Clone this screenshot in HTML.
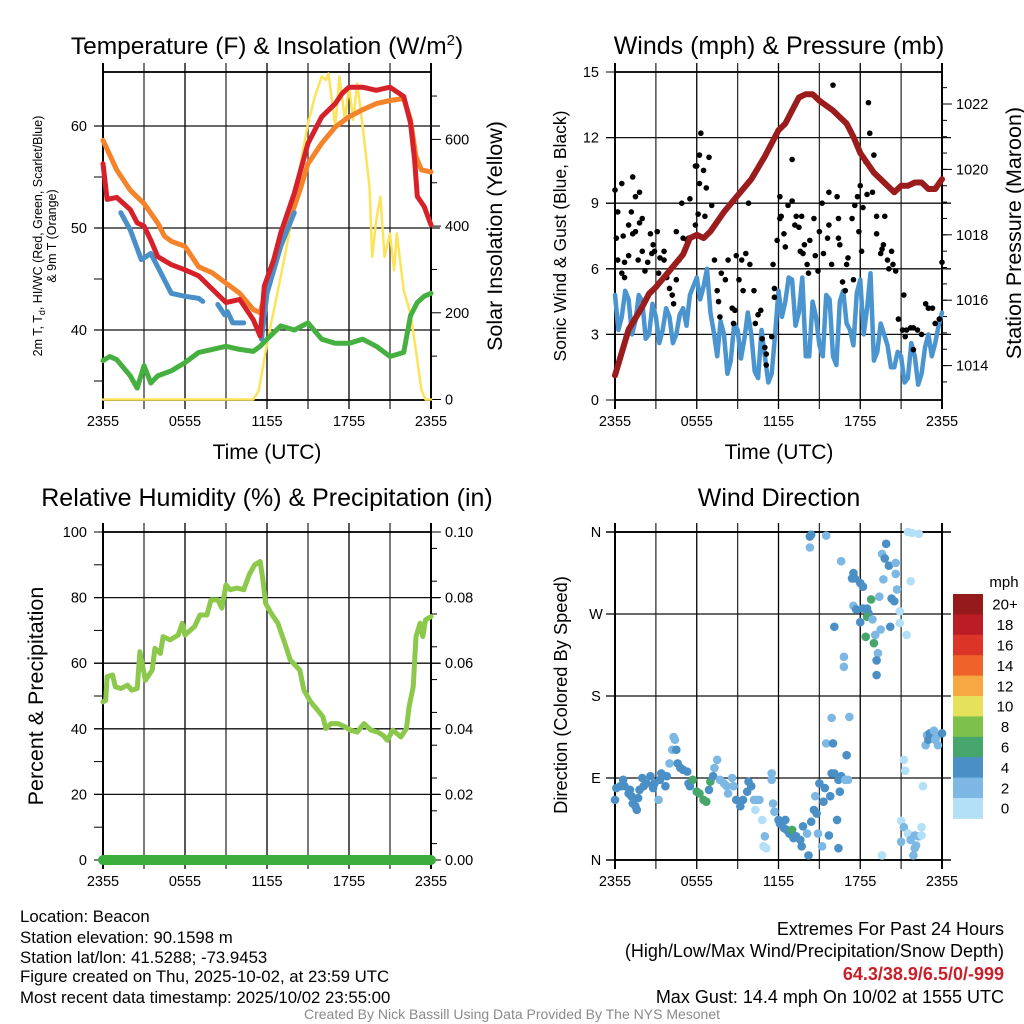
<!DOCTYPE html>
<html><head><meta charset="utf-8"><style>
html,body{margin:0;padding:0;background:#fff;}
svg{display:block;font-family:"Liberation Sans",Arial,sans-serif;}
</style></head><body>
<svg id="chart" width="1024" height="1024" viewBox="0 0 1024 1024" xmlns="http://www.w3.org/2000/svg">
<g id="layer-grid"></g>
<g id="layer-data"></g>
<g id="layer-text">
  <text x="267" y="54" font-size="24.5" text-anchor="middle">Temperature (F) &amp; Insolation (W/m<tspan dy="-9" font-size="15">2</tspan><tspan dy="9">)</tspan></text>
  <text x="779" y="54" font-size="25" text-anchor="middle">Winds (mph) &amp; Pressure (mb)</text>
  <text x="267" y="506" font-size="25" text-anchor="middle">Relative Humidity (%) &amp; Precipitation (in)</text>
  <text x="779" y="506" font-size="25" text-anchor="middle">Wind Direction</text>
  <text x="267" y="459" font-size="21" text-anchor="middle">Time (UTC)</text>
  <text x="779" y="459" font-size="21" text-anchor="middle">Time (UTC)</text>
  <g transform="translate(42,236) rotate(-90)">
    <text x="0" y="0" font-size="12.5" text-anchor="middle">2m T, T<tspan font-size="9" dy="3">d</tspan><tspan dy="-3">, HI/WC (Red, Green, Scarlet/Blue)</tspan></text>
    <text x="0" y="14" font-size="12.5" text-anchor="middle">&amp; 9m T (Orange)</text>
  </g>
  <text transform="translate(502,236) rotate(-90)" font-size="21.5" text-anchor="middle">Solar Insolation (Yellow)</text>
  <text transform="translate(566,236) rotate(-90)" font-size="17.5" text-anchor="middle">Sonic Wind &amp; Gust (Blue, Black)</text>
  <text transform="translate(1021,233) rotate(-90)" font-size="21.5" text-anchor="middle">Station Pressure (Maroon)</text>
  <text transform="translate(43,696) rotate(-90)" font-size="21.5" text-anchor="middle">Percent &amp; Precipitation</text>
  <text transform="translate(567,695) rotate(-90)" font-size="18.3" text-anchor="middle">Direction (Colored By Speed)</text>
  <text x="1004" y="587" font-size="15" text-anchor="middle">mph</text>
  <g font-size="16.8">
    <text x="20" y="922">Location: Beacon</text>
    <text x="20" y="943">Station elevation: 90.1598 m</text>
    <text x="20" y="963">Station lat/lon: 41.5288; -73.9453</text>
    <text x="20" y="982">Figure created on Thu, 2025-10-02, at 23:59 UTC</text>
    <text x="20" y="1003">Most recent data timestamp: 2025/10/02 23:55:00</text>
  </g>
  <g font-size="18" text-anchor="end">
    <text x="1004" y="935">Extremes For Past 24 Hours</text>
    <text x="1004" y="957">(High/Low/Max Wind/Precipitation/Snow Depth)</text>
    <text x="1004" y="980" fill="#c8202a" font-weight="bold">64.3/38.9/6.5/0/-999</text>
    <text x="1004" y="1003">Max Gust: 14.4 mph On 10/02 at 1555 UTC</text>
  </g>
  <text x="512" y="1019" font-size="14" fill="#8a8a8a" text-anchor="middle">Created By Nick Bassill Using Data Provided By The NYS Mesonet</text>
</g>
</svg>
<script>
// ---------- data ----------
const timeTickLabels = ["2355","0555","1155","1755","2355"];
const tempTicks = [40,50,60];
const insolTicks = [0,200,400,600];
const windTicks = [0,3,6,9,12,15];
const presTicks = [1014,1016,1018,1020,1022];
const rhTicks = [0,20,40,60,80,100];
const precipTicks = ["0.00","0.02","0.04","0.06","0.08","0.10"];
const dirLabels = ["N","E","S","W","N"];
const speedBins = ["0","2","4","6","8","10","12","14","16","18","20+"];

const redT = [0,0.3,1,2,2.5,3,3.5,4,5,6,7,8,9,10,11,11.5,11.8,12.5,13,14,15,16,17,17.5,18,19,20,21,22,22.5,22.8,23,23.5,24];
const redV = [56.3,52.8,53,51.8,50.5,50.2,48.8,47.2,46.4,45.9,45.3,44,42.7,43,41,39.4,44.3,46.9,49.5,53.4,58.3,60.9,62.2,63.2,63.8,63.8,63.5,63.8,62.9,60.3,56.7,53.1,52.1,50.3];
const orangeT = [0,1,2,3,4,4.5,5,6,7,8,9,10,11,11.5,12,12.5,13,14,14.5,15,16,17,18,19,20,21,22,22.5,22.9,23.3,24];
const orangeV = [58.6,55.7,53.7,52.4,50.5,49.2,48.7,48.2,46.2,45.6,44.6,43.6,42,41.7,44.3,46.2,48.8,52.1,54.1,56.3,58.3,59.9,60.9,61.6,62.2,62.5,62.7,60.6,57,55.7,55.5];
const blueT = [1.3,2,2.8,3.5,4,5,6,7,7.3,null,8.4,8.9,null,9.1,9.5,10.3,null,11.6,12,13,14];
const blueV = [51.5,49.8,46.9,47.5,46.2,43.6,43.3,43.1,42.8,null,42.5,41.5,null,41.8,40.7,40.7,null,39.1,43.6,48.2,51.5];
const greenT = [0,0.5,1,2,2.5,3,3.5,4,5,6,7,8,9,10,11,11.5,12,13,14,15,16,17,18,19,20,21,22,22.5,23,23.5,24];
const greenV = [37,37.4,37.1,35.5,34.3,36.5,34.8,35.5,36,36.8,37.8,38.1,38.4,38.1,37.9,38.4,39.1,40.4,40,40.7,39.1,38.7,38.7,39.1,38.4,37.4,37.8,41.4,42.7,43.3,43.6];
const solarT = [0,11,11.4,12,13,14,14.5,15,15.5,16,16.3,16.5,17,17.3,17.7,18,18.3,18.6,19,19.5,19.7,20,20.3,20.6,21,21.3,21.5,22,22.5,23,23.3,23.6,24];
const solarV = [0,0,21,129,283,445,552,637,698,745,737,752,629,745,645,722,645,729,629,491,329,414,468,329,383,298,383,252,198,91,22,0,0];

const presT = [0,0.5,1,2,2.5,3,4,5,5.5,6,6.5,7,8,9,10,11,12,12.5,13,13.5,14,14.5,15,16,16.5,17,17.5,18,18.5,19,19.5,20,20.5,21,21.5,22,22.5,23,23.5,24];
const presV = [1013.7,1014.4,1015.1,1015.8,1016.2,1016.4,1016.9,1017.4,1017.9,1018,1017.9,1018.1,1018.7,1019.2,1019.7,1020.4,1021.2,1021.4,1021.8,1022.2,1022.3,1022.3,1022.1,1021.8,1021.6,1021.4,1021,1020.5,1020.2,1019.9,1019.7,1019.5,1019.3,1019.5,1019.5,1019.6,1019.6,1019.4,1019.4,1019.7];
const windT = [0,0.25,0.5,0.75,1,1.25,1.5,1.75,2,2.25,2.5,2.75,3,3.25,3.5,3.75,4,4.25,4.5,4.75,5,5.25,5.5,5.75,6,6.25,6.5,6.75,7,7.25,7.5,7.75,8,8.25,8.5,8.75,9,9.25,9.5,9.75,10,10.25,10.5,10.75,11,11.25,11.5,11.75,12,12.25,12.5,12.75,13,13.25,13.5,13.75,14,14.25,14.5,14.75,15,15.25,15.5,15.75,16,16.25,16.5,16.75,17,17.25,17.5,17.75,18,18.25,18.5,18.75,19,19.25,19.5,19.75,20,20.25,20.5,20.75,21,21.25,21.5,21.75,22,22.25,22.5,22.75,23,23.25,23.5,23.75,24];
const windV = [4.8,3.2,3.8,5.0,4.6,3.0,3.6,4.8,4.5,2.8,3.0,4.4,3.8,2.6,3.2,4.2,3.8,2.6,3.0,3.9,4.2,3.4,4.8,5.2,5.6,4.6,5.2,6.0,4.0,3.1,2.0,3.6,3.0,1.2,1.8,3.5,3.2,1.9,2.8,4.0,3.0,1.3,1.0,3.2,2.0,0.8,1.2,3.0,5.0,3.8,4.5,5.6,5.5,3.4,4.0,5.6,2.0,2.0,4.5,3.8,2.5,2.0,4.8,4.6,2.0,1.6,4.5,5.0,3.5,3.2,2.5,4.9,5.5,3.0,4.2,5.8,1.8,2.2,3.5,3.0,2.5,1.5,1.5,2.2,2.0,0.8,1.0,2.6,2.0,0.7,1.2,2.4,3.0,2.0,2.6,3.4,4.0];
const gustT = [0,0.1,0.2,0.5,0.2,0.6,0.5,0.7,0.7,1,1,1.2,1.3,1.5,1.3,1.5,1.8,1.8,1.7,2,2,2.2,2.4,2.6,2.7,2.8,3.1,2.9,3.2,3.3,3.6,3.6,3.8,4,4.3,4.2,4.5,4.7,4.5,4.9,5,5.3,5.5,5.4,5.9,6,6.2,6.3,6.5,6.2,6.7,6.1,6.6,6.9,7.1,5.9,7.3,7.8,7.5,7.6,7.7,8.1,8.3,8.6,8.7,8.8,8.9,9.1,9.3,9.4,9.6,9.8,9.9,10.2,10.3,10.5,10.7,10.8,11,11.1,11.1,11.5,11.6,11.7,11.7,11.9,12.1,12.1,12.4,12.2,12.5,12.7,13,13,13.2,13.3,13.5,13.6,13.7,13.8,13.9,14.1,14.2,14.3,14.6,14.7,14.9,15,15.2,15.3,15.6,15.7,15.7,15.9,16,16.3,16.4,16.4,16.5,16.7,16.9,17,17.1,17.4,17.5,17.6,17.8,17.9,18,18.1,18.2,18.4,18.5,18.6,18.7,18.9,19,19.2,19.2,19.5,19.6,19.7,19.8,20,20.1,20.3,20.4,20.6,20.8,21.1,21.2,21.3,21.4,21.7,21.9,21.9,22.2,22.5,22.8,23,23.3,23.5,23.8,24];
const gustV = [9.6,7.4,8.6,9.9,6.4,7.5,5.8,5.6,6.3,8.0,6.6,8.6,10.2,9.3,7.6,7.7,9.5,8.1,6.4,8.3,6.8,5.9,6.3,7.6,6.7,7.1,7.7,6.8,5.8,6.5,6.4,6.8,5.6,5.1,4.4,4.8,7.7,6.4,5.5,9.0,7.4,7.3,9.2,7.4,10.7,10.7,11.2,12.2,10.5,9.9,9.7,8.5,8.4,11.1,8.9,8.0,6.4,5.8,5.0,4.5,3.8,5.5,6.4,4.2,3.5,4.1,6.6,5.5,6.4,5.0,6.7,9.0,6.2,5.0,3.5,3.9,4.1,2.8,2.4,2.1,1.6,2.9,6.2,5.1,4.7,7.3,9.3,8.3,7.6,8.4,7.0,8.9,11.0,9.1,8.0,8.4,7.9,6.8,8.4,6.7,7.1,6.2,5.8,7.3,8.3,6.6,5.9,7.7,9.0,6.7,7.4,8.0,9.5,6.2,14.4,9.3,8.3,7.4,7.1,5.4,5.0,6.2,6.5,8.3,5.5,8.9,9.3,7.7,9.8,6.8,8.8,10.9,9.4,13.6,12.2,9.5,11.2,8.4,7.6,6.7,6.9,7.1,8.4,6.4,6.0,6.8,6.2,5.9,3.7,3.2,4.8,2.9,3.2,3.3,2.3,3.3,3.2,3.0,4.4,4.2,4.2,3.5,3.7,6.3];

const rhT = [0,0.2,0.3,0.7,0.9,1.3,1.8,2.1,2.5,2.7,3.1,3.6,3.8,4.2,4.4,4.9,5.5,5.8,6,6.7,7.1,7.6,7.9,8.4,8.7,9,9.3,9.8,10.3,10.7,11.1,11.5,11.7,11.9,12.3,12.8,13.3,13.7,14.4,14.7,15.2,15.7,16.1,16.3,16.7,17.2,17.7,18.1,18.6,19.1,19.6,20.1,20.5,20.8,21.2,21.8,22.2,22.4,22.7,22.9,23.2,23.4,23.6,24];
const rhV = [48.2,48.7,55.9,56.4,52.8,52.3,53.3,51.8,52.3,63.5,54.8,57.9,64.5,63,68.1,67.1,68.6,72.2,68.6,71.2,74.7,74.7,79.3,79.3,76.8,83.9,82.4,82.9,82.4,87,90,91,85.4,78.3,75.2,72.2,66.1,61,57.9,51.8,48.2,45.7,43.6,40.1,41.6,41.6,40.6,39.6,39,41.6,39.6,39,38,36.5,39.6,37.5,40.1,46.7,52.8,68.1,72.2,68.1,73.2,74.2];
const precipT = [0,24];
const precipV = [0,0];

const dirT = [0,0.1,0.4,0.6,0.7,1,1.1,1.2,1.3,1.5,1.6,1.7,1.8,2,2.1,2.3,2.6,2.8,2.9,3.2,3.3,3.4,3.7,3.8,4,4.2,4.3,4.4,4.5,4.6,4.8,5,5.3,5.4,5.5,5.7,6,6.2,6.5,6.7,7,6.9,7.2,7.3,7.5,7.7,8,8.2,8.3,8.6,8.7,8.9,9.2,9.4,9.7,9.8,10,10.2,10.3,10.4,10.6,10.8,11,10.9,11.1,11.5,11.5,11.6,11.7,12,12.1,12.4,12.5,12.6,12.8,13,13.1,13.3,13.6,13.7,13.8,14.1,14.2,14.4,14.6,14.7,14.8,14.9,15,15.2,15.3,15.4,15.5,15.8,15.9,16,16.1,16.3,16.4,16.5,16.6,16.9,17,17.1,17.2,15.9,15.7,16.4,14.3,14.4,14.3,15.5,16.6,17.5,17.4,17.6,18,18.2,18.8,19.4,19.6,19.9,19.8,20.1,20.6,19.7,20.6,20.7,20.3,20.5,21.7,17.5,17.7,18.2,18.5,18.6,18.5,18.9,18,16.1,19.5,20.2,20.9,20.9,21.4,18.4,19,19.1,16.8,16.8,19.3,19.2,19.2,21.5,21.8,22.3,22.9,23.1,23.4,23.6,23.7,24,22.8,23,23.5,21.2,21.3,22.6,21,21.2,21.5,22,22.3,22.5,21.7,22.1,21,22,21.9,19.6,22.5];
const dirV = [66,79,81,88,81,73,77,70,62,59,55,68,77,90,81,84,92,79,84,66,88,95,81,92,106,121,135,132,121,106,101,99,97,84,81,88,75,73,66,64,86,77,92,101,110,88,84,81,73,90,81,66,59,66,75,86,81,66,55,66,66,44,26,15,13,95,88,62,53,44,40,35,44,33,29,33,24,26,22,15,37,29,5,42,55,70,51,29,84,15,64,79,128,70,95,128,95,44,88,75,92,88,115,88,157,156,27,13,355,357,343,356,328,315,309,309,304,300,286,289,336,347,331,323,326,308,314,297,287,284,306,279,275,276,276,271,267,264,261,256,253,256,273,260,247,245,238,247,223,212,227,219,203,360,359,358,137,139,142,135,126,139,126,132,132,110,98,81,43,36,29,27,26,27,22,16,20,13,5,5,36];
const dirS = [5,5,5,5,5,5,5,5,5,5,5,5,5,5,5,5,5,5,5,3,5,5,5,5,3,3,3,3,5,5,5,5,5,5,5,7,7,7,7,7,7,5,5,3,3,3,3,3,3,3,3,5,5,5,5,5,5,3,1,3,3,1,3,1,1,3,3,3,3,5,5,5,5,5,5,7,5,5,5,5,5,3,5,5,5,3,5,3,5,3,5,5,3,5,5,5,5,5,5,5,5,3,5,3,3,3,5,5,5,5,3,3,3,5,5,5,5,5,7,3,3,5,5,5,3,3,3,3,5,5,1,3,5,5,5,5,7,3,5,5,3,5,1,1,1,7,7,3,3,3,3,5,5,1,1,1,3,5,3,3,3,5,3,5,3,1,1,1,1,3,1,3,3,1,3,3,3,3,3,1,1];

// ---------- helpers ----------
const NS = "http://www.w3.org/2000/svg";
const gridL = document.getElementById("layer-grid");
const dataL = document.getElementById("layer-data");
const textL = document.getElementById("layer-text");
function mk(tag, attrs, parent) {
  const e = document.createElementNS(NS, tag);
  for (const k in attrs) e.setAttribute(k, attrs[k]);
  parent.appendChild(e);
  return e;
}
const panels = {
  p1: {x0:103, x1:431, y0:72, y1:400},
  p2: {x0:615, x1:942, y0:72, y1:400},
  p3: {x0:103, x1:431, y0:532, y1:860},
  p4: {x0:615, x1:942, y0:532, y1:860}
};
function sx(p, t) { return p.x0 + t / 24 * (p.x1 - p.x0); }
function lin(p, v, vmin, vmax) { return p.y1 - (v - vmin) / (vmax - vmin) * (p.y1 - p.y0); }
const yTemp = v => 126 + (60 - v) * 10.2;
const yIns = v => 399.5 - v * 0.4335;
const yWind = v => lin(panels.p2, v, 0, 15);
const yPres = v => 104 + (1022 - v) * 32.7;
const yRh = v => lin(panels.p3, v, 0, 100);
const yPre = v => lin(panels.p3, v, 0, 0.1);
const yDir = v => lin(panels.p4, v, 0, 360);

function drawFrame(p, name, hLines) {
  const g = mk("g", {}, gridL);
  
  
  for (let i = 0; i <= 8; i++) {
    const x = p.x0 + i * (p.x1 - p.x0) / 8;
    mk("line", {x1:x, x2:x, y1:p.y0 - 9, y2:p.y1 + 9, stroke: (i % 2 ? "#333" : "#000"), "stroke-width": (i === 0 || i === 8) ? 2 : 1.3}, g);
  }
  hLines.forEach(y => mk("line", {x1:p.x0 - 9, x2:p.x1 + 9, y1:y, y2:y, stroke:"#111", "stroke-width":1.3}, g));
  mk("rect", {x:p.x0, y:p.y0, width:p.x1 - p.x0, height:p.y1 - p.y0, fill:"none", stroke:"#000", "stroke-width":1.8}, g);
  timeTickLabels.forEach((lab, i) => {
    const t = mk("text", {x: p.x0 + i * (p.x1 - p.x0) / 4, y: p.y1 + 26, "font-size": 14.5, "text-anchor": "middle"}, textL);
    t.textContent = lab;
    
    
  });
}
function minorTicks(x, ys, len, g) {
  ys.forEach(y => mk("line", {x1:x, x2:x + len, y1:y, y2:y, stroke:"#000", "stroke-width":1}, g));
}
function tickLabel(x, y, txt, anchor, name) {
  const t = mk("text", {x:x, y:y + 5, "font-size":14.5, "text-anchor":anchor}, textL);
  t.textContent = txt;
  
  
}
function pathFrom(ts, vs, p, yf) {
  let d = "", pen = false;
  for (let i = 0; i < ts.length; i++) {
    if (ts[i] === null) { pen = false; continue; }
    d += (pen ? "L" : "M") + sx(p, ts[i]).toFixed(1) + "," + yf(vs[i]).toFixed(1);
    pen = true;
  }
  return d;
}
function series(ts, vs, p, yf, color, w, name) {
  const e = mk("path", {d: pathFrom(ts, vs, p, yf), fill:"none", stroke:color, "stroke-width":w, "stroke-linejoin":"round", "stroke-linecap":"round"}, dataL);
  
  
  return e;
}

// ---------- panel 1 ----------
(function(){
  const p = panels.p1;
  drawFrame(p, "temperature", tempTicks.map(yTemp));
  const g = mk("g", {}, gridL);
  minorTicks(p.x0 - 9, [35,45,55].map(yTemp), 9, g);
  const ins = [];
  for (let w = 100; w <= 700; w += 200) ins.push(yIns(w));
  minorTicks(p.x1, ins, 6, g);
  minorTicks(p.x1, insolTicks.map(yIns), 10, g);
  tempTicks.forEach(v => tickLabel(p.x0 - 16, yTemp(v), String(v), "end", "temperature-y-tick-label"));
  insolTicks.forEach(v => tickLabel(p.x1 + 14, yIns(v), String(v), "start", "insolation-y-tick-label"));
  series(solarT, solarV, p, yIns, "#fde35a", 2.5, "solar-insolation-line");
  series(greenT, greenV, p, yTemp, "#45b040", 5, "dewpoint-line");
  series(orangeT, orangeV, p, yTemp, "#f5832a", 5, "temp-9m-line");
  series(blueT, blueV, p, yTemp, "#4a90c8", 5, "windchill-line");
  series(redT, redV, p, yTemp, "#d7212a", 5, "temp-2m-line");
})();

// ---------- panel 2 ----------
(function(){
  const p = panels.p2;
  drawFrame(p, "wind", windTicks.slice(1, 5).map(yWind));
  const g = mk("g", {}, gridL);
  minorTicks(p.x0 - 9, windTicks.map(yWind), 9, g);
  const pm = [];
  for (let v = 1013.5; v <= 1023; v += 0.5) pm.push(yPres(v));
  minorTicks(p.x1, pm.filter(y => y >= p.y0 && y <= p.y1), 5, g);
  minorTicks(p.x1, presTicks.map(yPres), 10, g);
  windTicks.forEach(v => tickLabel(p.x0 - 16, yWind(v), String(v), "end", "wind-y-tick-label"));
  presTicks.forEach(v => tickLabel(p.x1 + 14, yPres(v), String(v), "start", "pressure-y-tick-label"));
  series(windT, windV, p, yWind, "#4a94d0", 4.5, "sonic-wind-line");
  const gg = mk("g", {fill:"#000"}, dataL);
  
  
  for (let i = 0; i < gustT.length; i++) {
    const c = mk("circle", {cx: sx(p, gustT[i]), cy: yWind(gustV[i]), r: 2.8}, gg);
    
    
  }
  series(presT, presV, p, yPres, "#9b1c1c", 6, "pressure-line");
})();

// ---------- panel 3 ----------
(function(){
  const p = panels.p3;
  drawFrame(p, "humidity", [20,40,60,80].map(yRh));
  const g = mk("g", {}, gridL);
  minorTicks(p.x0 - 9, [0,10,20,30,40,50,60,70,80,90,100].map(yRh), 9, g);
  const r = [];
  for (let v = 5; v < 100; v += 10) r.push(yRh(v));
  minorTicks(p.x1, r, 6, g);
  minorTicks(p.x1, rhTicks.map(yRh), 10, g);
  rhTicks.forEach(v => tickLabel(p.x0 - 16, yRh(v), String(v), "end", "humidity-y-tick-label"));
  precipTicks.forEach(v => tickLabel(p.x1 + 14, yPre(parseFloat(v)), v, "start", "precip-y-tick-label"));
  series(rhT, rhV, p, yRh, "#8cc84b", 5, "relative-humidity-line");
  series(precipT, precipV, p, yPre, "#3cae3c", 10, "precipitation-line");
})();

// ---------- panel 4 ----------
(function(){
  const p = panels.p4;
  drawFrame(p, "direction", [90,180,270].map(yDir));
  const g = mk("g", {}, gridL);
  minorTicks(p.x0 - 9, [0,90,180,270,360].map(yDir), 9, g);
  mk("line", {x1:p.x0 - 9, x2:p.x1 + 9, y1:p.y0, y2:p.y0, stroke:"#000", "stroke-width":1.5}, g);
  mk("line", {x1:p.x0 - 9, x2:p.x1 + 9, y1:p.y1, y2:p.y1, stroke:"#000", "stroke-width":1.5}, g);
  dirLabels.forEach((lab, i) => tickLabel(p.x0 - 19, yDir(i * 90), lab, "middle", "direction-y-tick-label"));
  const binColors = ["#b3e0f7","#7cb8e3","#4a8fc6","#46a66b","#7dc14a","#e5e15a","#f6a843","#ef6229","#dc3527","#bc1c24","#941a1c"];
  const gg = mk("g", {}, dataL);
  
  
  for (let i = 0; i < dirT.length; i++) {
    const bin = Math.min(10, Math.floor(dirS[i] / 2));
    const c = mk("circle", {cx: sx(p, dirT[i]), cy: yDir(dirV[i]), r: 4.3, fill: binColors[bin]}, gg);
    
    
  }
  const cb = mk("g", {}, dataL);
  
  
  const top = 594, h = 20.4;
  for (let i = 0; i < speedBins.length; i++) {
    const k = speedBins.length - 1 - i;
    const r = mk("rect", {x:953, y: top + i * h, width:30, height:h + 0.5, fill: binColors[k]}, cb);
    
    
    const t = mk("text", {x:1005, y: top + i * h + h / 2 + 5.5, "font-size":15, "text-anchor":"middle"}, textL);
    t.textContent = speedBins[k];
    
    
  }
})();
</script>
</body></html>
